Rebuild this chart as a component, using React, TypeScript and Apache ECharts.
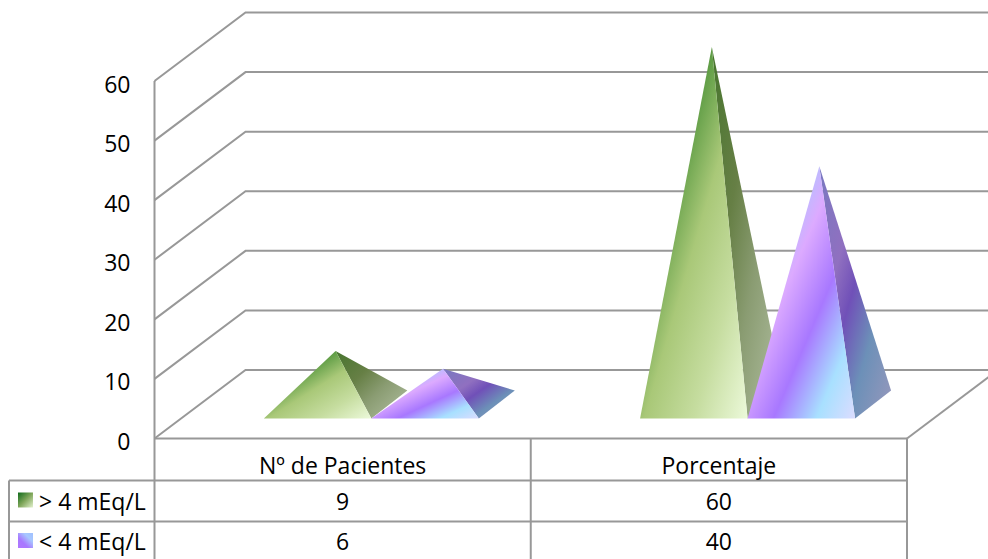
import React, { useEffect, useRef } from "react";
import * as echarts from "echarts";

const categories = ["Nº de Pacientes", "Porcentaje"];
const seriesNames = ["> 4 mEq/L", "< 4 mEq/L"];
const highValues = [9, 60];
const lowValues = [6, 40];
const tickValues = [0, 10, 20, 30, 40, 50, 60];

const FONT = "'Open Sans'";
const LINE = "#989898";
const W = 988, H = 559;
const LEFT = 154.5, RIGHT = 907, TOP = 81, BOTTOM = 438.5;
const WALL_DX = 91, WALL_DY = -68.5;
const FRONT_DX = 28.7, FRONT_DY = -20;
const DEPTH_DX = 36, DEPTH_DY = -28;
const PW = 107.5;

const grad = (x: number, y: number, x2: number, y2: number, stops: [number, string][]) =>
  new echarts.graphic.LinearGradient(x, y, x2, y2, stops.map(([offset, color]) => ({ offset, color })));

const greenFront = () => grad(0, 0, 1, 1, [[0, "#4a8e34"], [0.33, "#5a9a42"], [0.52, "#a9c878"], [0.75, "#c6dda0"], [1, "#ecf9da"]]);
const greenSide = () => grad(0, 0, 1, 1, [[0, "#47752e"], [0.35, "#667f45"], [0.6, "#8a9c72"], [1, "#b4c1a4"]]);
const purpleFront = () => grad(0, 0, 1, 1, [[0, "#a0b8ff"], [0.3, "#b4c0ff"], [0.42, "#dcaaff"], [0.62, "#a878ff"], [0.82, "#a8e0ff"], [1, "#dcdcff"]]);
const purpleSide = () => grad(0, 0, 1, 1, [[0, "#7878c0"], [0.32, "#9070c0"], [0.48, "#7050b8"], [0.7, "#6c90b8"], [1, "#9898bc"]]);

function pyramidSeries(name: string, values: number[], side: number, front: () => any, right: () => any) {
  return {
    type: "custom",
    name,
    silent: true,
    clip: false,
    encode: { x: 0, y: 1 },
    data: values.map((v, i) => [i, v]),
    renderItem: (_: any, api: any) => {
      const base = api.coord([api.value(0), 0]);
      const top = api.coord([api.value(0), api.value(1)]);
      const fx = base[0] + FRONT_DX + side * PW;
      const fy = base[1] + FRONT_DY;
      const fl: number[] = [fx, fy];
      const fr: number[] = [fx + PW, fy];
      const br: number[] = [fx + PW + DEPTH_DX, fy + DEPTH_DY];
      const tip: number[] = [fx + (PW + DEPTH_DX) / 2, fy + DEPTH_DY / 2 - (base[1] - top[1])];
      return {
        type: "group",
        children: [
          { type: "polygon", shape: { points: [tip, fr, br] }, style: { fill: right() } },
          { type: "polygon", shape: { points: [tip, fl, fr] }, style: { fill: front() } },
        ],
      };
    },
  };
}

const wallSeries = {
  type: "custom",
  silent: true,
  clip: false,
  encode: { x: 0, y: 1 },
  data: tickValues.map((t) => [0, t]),
  renderItem: (_: any, api: any) => {
    const y = api.coord([0, api.value(1)])[1];
    return {
      type: "polyline",
      shape: { points: [[LEFT, y], [LEFT + WALL_DX, y + WALL_DY], [W + 20, y + WALL_DY]] },
      style: { stroke: LINE, lineWidth: 2, fill: "none" },
    };
  },
};

const hline = (x1: number, y: number, x2: number) => ({
  type: "line", shape: { x1, y1: y, x2, y2: y }, style: { stroke: LINE, lineWidth: 2 }, silent: true,
});
const vline = (x: number, y1: number, y2: number) => ({
  type: "line", shape: { x1: x, y1, x2: x, y2 }, style: { stroke: LINE, lineWidth: 2 }, silent: true,
});

const BAND = (RIGHT - LEFT) / categories.length;
const MID = LEFT + BAND;
const ROW1 = 480.5, ROW2 = 521.5, TABLE_LEFT = 9;

const cellText = (text: string, x: number, y: number, align = "center") => ({
  type: "text",
  silent: true,
  style: { text, x, y, align, verticalAlign: "middle", font: `23px ${FONT}`, fill: "#000" },
});

function tableElements() {
  const rows = [
    { y: ROW1 + 20, vals: highValues, name: seriesNames[0], key: () => grad(0, 0, 1, 1, [[0, "#0f6a1a"], [0.5, "#7fa65a"], [1, "#e4f2cf"]]) },
    { y: ROW2 + 19.5, vals: lowValues, name: seriesNames[1], key: () => grad(0, 1, 1, 0, [[0, "#b079ff"], [0.35, "#a878ff"], [0.7, "#a8c8ff"], [1, "#a0c0ff"]]) },
  ];
  const els: any[] = [
    vline(LEFT, TOP, H + 2),
    vline(MID, BOTTOM, H + 2),
    vline(RIGHT, BOTTOM, H + 2),
    vline(TABLE_LEFT, ROW1, H + 2),
    hline(LEFT, BOTTOM, RIGHT),
    hline(TABLE_LEFT, ROW1, RIGHT),
    hline(TABLE_LEFT, ROW2, RIGHT),
    { type: "line", shape: { x1: RIGHT, y1: BOTTOM, x2: RIGHT + WALL_DX, y2: BOTTOM + WALL_DY }, style: { stroke: LINE, lineWidth: 2 }, silent: true },
  ];
  rows.forEach((r) => {
    els.push({ type: "rect", silent: true, shape: { x: 18, y: r.y - 8, width: 15, height: 15 }, style: { fill: r.key() } });
    els.push(cellText(r.name, 39, r.y, "left"));
    r.vals.forEach((v, i) => els.push(cellText(String(v), LEFT + BAND * (i + 0.5), r.y)));
  });
  return els;
}

export default function App() {
  const ref = useRef<HTMLDivElement>(null);
  useEffect(() => {
    document.body.style.margin = "0";
    const chart = echarts.init(ref.current!, undefined, { renderer: "svg" });
    chart.setOption({
      animation: false,
      backgroundColor: "#fff",
      grid: { left: LEFT, top: TOP, width: RIGHT - LEFT, height: BOTTOM - TOP },
      xAxis: {
        type: "category",
        data: categories,
        axisLine: { show: false },
        axisTick: { show: false },
        splitLine: { show: false },
        axisLabel: { color: "#000", fontFamily: FONT, fontSize: 23, margin: 15 },
      },
      yAxis: {
        type: "value",
        min: 0,
        max: 60,
        interval: 10,
        axisLine: { show: false },
        axisTick: { show: false },
        splitLine: { show: false },
        axisLabel: { color: "#000", fontFamily: FONT, fontSize: 23, margin: 24, verticalAlign: "top", lineHeight: 5 },
      },
      graphic: { elements: tableElements() },
      series: [
        wallSeries,
        pyramidSeries(seriesNames[0], highValues, -1, greenFront, greenSide),
        pyramidSeries(seriesNames[1], lowValues, 0, purpleFront, purpleSide),
      ],
    });
    return () => chart.dispose();
  }, []);
  return <div ref={ref} style={{ width: W, height: H, position: "absolute", left: 0, top: 0 }} />;
}
